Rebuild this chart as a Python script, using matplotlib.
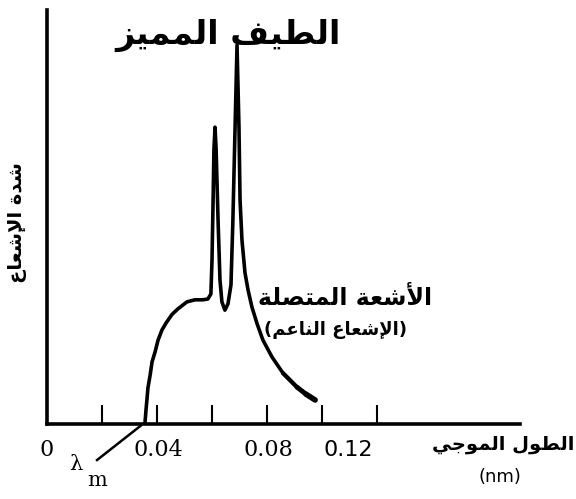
import matplotlib
matplotlib.use("Agg")
import matplotlib.pyplot as plt

# spectrum (wavelength in nm, intensity in arbitrary units 0..1)
wavelength = [0.0356, 0.0360, 0.0364, 0.0367, 0.0375, 0.0382, 0.0393, 0.0404, 0.0418, 0.0433,
              0.0455, 0.0476, 0.0509, 0.0538, 0.0567, 0.0585, 0.0596, 0.0600, 0.0604, 0.0607,
              0.0611, 0.0615, 0.0622, 0.0629, 0.0636, 0.0647, 0.0658, 0.0669, 0.0676, 0.0684,
              0.0691, 0.0698, 0.0702, 0.0709, 0.0720, 0.0731, 0.0745, 0.0764, 0.0785, 0.0818,
              0.0858, 0.0909, 0.0942, 0.0975]
intensity = [0.000, 0.034, 0.063, 0.087, 0.118, 0.150, 0.174, 0.203, 0.227, 0.244,
             0.265, 0.278, 0.295, 0.300, 0.300, 0.302, 0.314, 0.396, 0.541, 0.662,
             0.717, 0.662, 0.493, 0.348, 0.295, 0.275, 0.290, 0.336, 0.493, 0.720,
             0.915, 0.720, 0.541, 0.444, 0.365, 0.324, 0.283, 0.242, 0.203, 0.162,
             0.123, 0.089, 0.072, 0.058]

tick_marks = [0.02, 0.04, 0.06, 0.08, 0.10, 0.12]
tick_labels = ["0", "0.04", "0.08", "0.12"]
tick_label_pos = [0.0, 0.0404, 0.0804, 0.1095]
lambda_min = 0.0356

title = "الطيف المميز"
ylabel = "شدة الإشعاع"
xlabel = "الطول الموجي"
cont_label = "الأشعة المتصلة"
cont_sub = "(الإشعاع الناعم)"

# minimal arabic shaping (matplotlib has no complex text layout)
FORMS = {
    "ا": (0xFE8D, 0xFE8E, None, None), "أ": (0xFE83, 0xFE84, None, None),
    "إ": (0xFE87, 0xFE88, None, None), "ة": (0xFE93, 0xFE94, None, None),
    "ت": (0xFE95, 0xFE96, 0xFE97, 0xFE98), "ج": (0xFE9D, 0xFE9E, 0xFE9F, 0xFEA0),
    "د": (0xFEA9, 0xFEAA, None, None), "ز": (0xFEAF, 0xFEB0, None, None),
    "ش": (0xFEB5, 0xFEB6, 0xFEB7, 0xFEB8), "ص": (0xFEB9, 0xFEBA, 0xFEBB, 0xFEBC),
    "ط": (0xFEC1, 0xFEC2, 0xFEC3, 0xFEC4), "ع": (0xFEC9, 0xFECA, 0xFECB, 0xFECC),
    "ف": (0xFED1, 0xFED2, 0xFED3, 0xFED4), "ل": (0xFEDD, 0xFEDE, 0xFEDF, 0xFEE0),
    "م": (0xFEE1, 0xFEE2, 0xFEE3, 0xFEE4), "ن": (0xFEE5, 0xFEE6, 0xFEE7, 0xFEE8),
    "و": (0xFEED, 0xFEEE, None, None), "ي": (0xFEF1, 0xFEF2, 0xFEF3, 0xFEF4),
}
LAM_ALEF = {"ا": (0xFEFB, 0xFEFC), "أ": (0xFEF7, 0xFEF8), "إ": (0xFEF9, 0xFEFA)}

def joins_next(c):
    return c in FORMS and FORMS[c][2] is not None

def shape(s):
    out, i = [], 0
    while i < len(s):
        c = s[i]
        if c not in FORMS:
            out.append(c); i += 1; continue
        link_prev = i > 0 and joins_next(s[i - 1])
        if c == "ل" and i + 1 < len(s) and s[i + 1] in LAM_ALEF:
            iso, fin = LAM_ALEF[s[i + 1]]
            out.append(chr(fin if link_prev else iso)); i += 2; continue
        link_next = joins_next(c) and i + 1 < len(s) and s[i + 1] in FORMS
        iso, fin, ini, med = FORMS[c]
        g = med if (link_prev and link_next) else fin if link_prev else ini if link_next else iso
        out.append(chr(g)); i += 1
    return "".join(reversed(out)).translate(str.maketrans("()", ")("))

W, H = 576, 499
fig = plt.figure(figsize=(W / 100, H / 100), dpi=100)
ax = fig.add_axes([47 / W, 1 - 424 / H, (520 - 47) / W, (424 - 10) / H])

def px(x, y):  # pixel position (from top-left) -> figure fraction
    return x / W, 1 - y / H

ax.plot(wavelength, intensity, color="black", lw=2.6, solid_joinstyle="round", solid_capstyle="round")
n = len(wavelength)
for j, lw in zip(range(n - 4, n - 1), [3.0, 3.5, 4.0]):  # ink gets heavier towards the tail
    ax.plot(wavelength[j:j + 2], intensity[j:j + 2], color="black", lw=lw, solid_capstyle="round")
ax.set_xlim(0, 0.172)
ax.set_ylim(0, 1)
for s in ["top", "right"]:
    ax.spines[s].set_visible(False)
for s in ["left", "bottom"]:
    ax.spines[s].set_linewidth(2.6)
ax.set_yticks([])
ax.set_xticks(tick_marks)
ax.set_xticklabels([])
ax.tick_params(axis="x", direction="in", length=14, width=1.5)

xt = ax.get_xaxis_transform()
for lab, pos in zip(tick_labels, tick_label_pos):
    fam = "DejaVu Sans" if lab == "0.12" else "DejaVu Serif"
    ax.text(pos, -0.063, lab, transform=xt, ha="center", va="center", fontsize=16, family=fam)

# lambda_min pointer
ax.plot([0.0182, lambda_min - 0.0015], [-0.087, -0.004], color="black", lw=1.8, clip_on=False)
fig.text(*px(76, 464), "λ", family="DejaVu Serif", fontsize=15, ha="center", va="center")
fig.text(*px(97, 480), "m", family="DejaVu Serif", fontsize=15, ha="center", va="center")

ar = dict(family="DejaVu Sans", fontweight="bold", ha="center", va="center")
fig.text(*px(228, 35), shape(title), fontsize=24, **ar)
fig.text(*px(18, 223), shape(ylabel), fontsize=14, rotation=90, **ar)
fig.text(*px(345, 298), shape(cont_label), fontsize=17, **ar)
fig.text(*px(336, 330), shape(cont_sub), fontsize=13, **ar)
fig.text(*px(503, 445), shape(xlabel), fontsize=14, **ar)
fig.text(*px(500, 477), "(nm)", family="DejaVu Sans", fontsize=13, ha="center", va="center")

fig.savefig("out.png", dpi=100)
